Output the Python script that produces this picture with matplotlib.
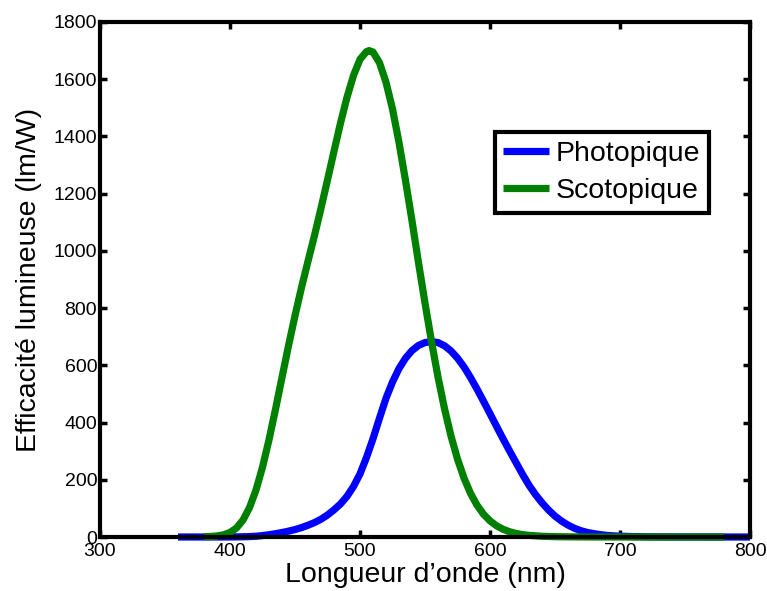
import matplotlib
matplotlib.use("Agg")
import matplotlib.pyplot as plt

plt.rcParams['font.family'] = ['Liberation Sans', 'DejaVu Sans']

# Photopic luminous efficacy (lm/W)
wl_phot = [360, 365, 370, 375, 380, 385, 390, 395, 400, 405, 410, 415, 420, 425, 430, 435,
           440, 445, 450, 455, 460, 465, 470, 475, 480, 485, 490, 495, 500, 505, 510, 515,
           520, 525, 530, 535, 540, 545, 550, 555, 560, 565, 570, 575, 580, 585, 590, 595,
           600, 605, 610, 615, 620, 625, 630, 635, 640, 645, 650, 655, 660, 665, 670, 675,
           680, 685, 690, 695, 700, 710, 720, 730, 740, 750, 760, 770, 780, 790, 800]
eff_phot = [0.003, 0.005, 0.008, 0.015, 0.027, 0.044, 0.082, 0.148, 0.27, 0.437, 0.826, 1.49,
            2.73, 4.99, 7.92, 11.5, 15.7, 20.4, 26.0, 32.8, 41.0, 50.5, 62.1, 76.9, 95.0,
            115.6, 142.1, 176.6, 220.6, 278.2, 343.5, 415.4, 484.9, 541.8, 588.7, 624.8,
            651.6, 669.5, 679.5, 683.0, 679.6, 668.4, 650.2, 625.2, 594.2, 557.5, 517.0,
            474.6, 431.0, 387.1, 343.5, 301.3, 260.2, 219.2, 181.0, 148.2, 119.5, 94.4,
            73.1, 55.7, 41.7, 30.4, 21.9, 15.8, 11.6, 8.14, 5.61, 3.91, 2.80, 1.43, 0.72,
            0.36, 0.17, 0.08, 0.04, 0.02, 0.01, 0.005, 0.003]

# Scotopic luminous efficacy (lm/W)
wl_scot = [380, 385, 390, 395, 400, 405, 410, 415, 420, 425, 430, 435, 440, 445, 450, 455,
           460, 465, 470, 475, 480, 485, 490, 495, 500, 505, 507, 510, 515, 520, 525, 530, 535,
           540, 545, 550, 555, 560, 565, 570, 575, 580, 585, 590, 595, 600, 605, 610, 615,
           620, 625, 630, 640, 650, 660, 670, 680, 690, 700, 710, 720, 730, 740, 750, 760,
           770, 780]
eff_scot = [1.0, 1.88, 3.76, 7.7, 15.8, 31.5, 59.2, 102.7, 164.2, 244.1, 339.7, 446.3, 557.8,
            668.3, 773.5, 872.1, 963.9, 1054.0, 1149.2, 1247.8, 1348.1, 1446.7, 1536.8,
            1613.3, 1669.4, 1696.6, 1700.0, 1694.9, 1657.5, 1589.5, 1496.0, 1378.7, 1246.1, 1105.0,
            958.8, 817.7, 683.4, 559.0, 448.6, 352.9, 272.3, 206.0, 152.8, 111.4, 79.7, 56.4,
            39.3, 27.1, 18.5, 12.5, 8.45, 5.67, 2.54, 1.15, 0.53, 0.25, 0.12, 0.06, 0.03,
            0.015, 0.008, 0.004, 0.002, 0.001, 0.0, 0.0, 0.0]

labels = ['Photopique', 'Scotopique']
xticks = [300, 400, 500, 600, 700, 800]
yticks = [0, 200, 400, 600, 800, 1000, 1200, 1400, 1600, 1800]

fig = plt.figure(figsize=(7.67, 5.91), dpi=100)
ax = fig.add_axes([100/767, 1-537/591, 650/767, 515/591])

ax.plot(wl_phot, eff_phot, color='#0000ff', lw=5.2, label=labels[0], solid_capstyle='butt',
        solid_joinstyle='round', clip_on=False)
ax.plot(wl_scot, eff_scot, color='#008000', lw=5.2, label=labels[1], solid_capstyle='butt',
        solid_joinstyle='round', clip_on=False)

ax.set_xlim(300, 800)
ax.set_ylim(0, 1800)
ax.set_xticks(xticks)
ax.set_yticks(yticks)
ax.tick_params(direction='in', length=5, width=2.5, labelsize=14, top=True, right=True, pad=2)
ax.tick_params(axis='x', pad=4)
for s in ax.spines.values():
    s.set_linewidth(3)
ax.set_xlabel("Longueur d\u2019onde (nm)", fontsize=20.5, labelpad=2)
ax.set_ylabel("Efficacit\u00e9 lumineuse (lm/W)", fontsize=20.5, labelpad=8)

leg = ax.legend(loc='upper right', bbox_to_anchor=(0.937, 0.786), fontsize=20.5,
                fancybox=False, framealpha=1, edgecolor='black', handlelength=1.6,
                handletextpad=0.25, borderpad=0.3, labelspacing=0.4, borderaxespad=0)
leg.get_frame().set_linewidth(3)
for h in leg.get_lines():
    h.set_linewidth(5.2)

fig.savefig('out.png', dpi=100)
